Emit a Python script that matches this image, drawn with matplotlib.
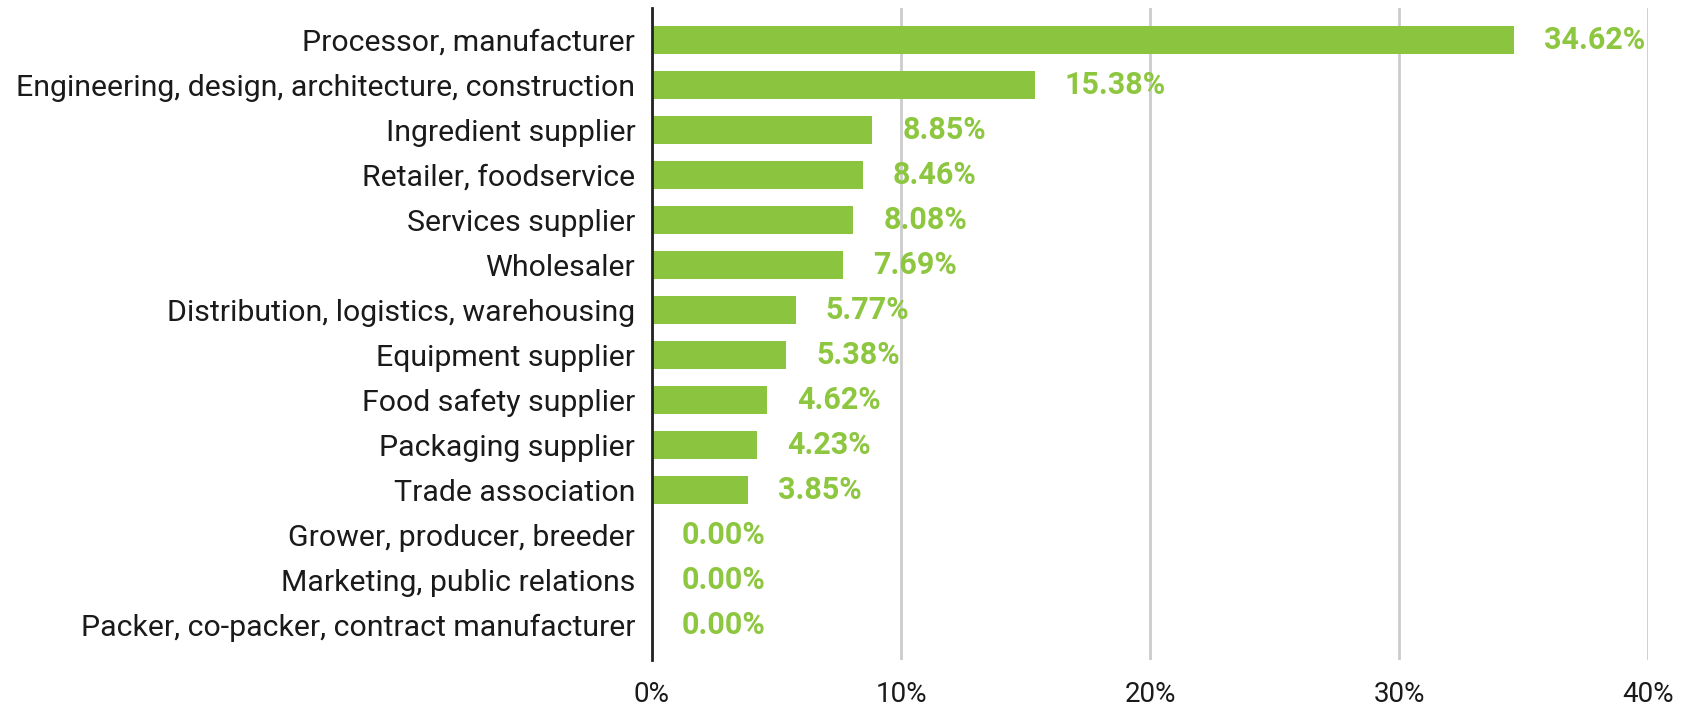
import matplotlib.pyplot as plt
from matplotlib.ticker import FuncFormatter

plt.rcParams['font.family'] = ['Roboto', 'DejaVu Sans']

# respondent categories, top to bottom
categories = [
    "Processor, manufacturer",
    "Engineering, design, architecture, construction",
    "Ingredient supplier",
    "Retailer, foodservice",
    "Services supplier",
    "Wholesaler",
    "Distribution, logistics, warehousing",
    "Equipment supplier",
    "Food safety supplier",
    "Packaging supplier",
    "Trade association",
    "Grower, producer, breeder",
    "Marketing, public relations",
    "Packer, co-packer, contract manufacturer",
]
shares = [34.62, 15.38, 8.85, 8.46, 8.08, 7.69, 5.77, 5.38, 4.62, 4.23, 3.85, 0.00, 0.00, 0.00]
x_ticks = [0, 10, 20, 30, 40]

bar_color = "#8bc540"
label_color = "#8dc63f"

fig = plt.figure(figsize=(17.01, 7.09), dpi=100)
ax = fig.add_axes([0.3833, 0.0691, 0.5856, 0.9196])

ypos = list(range(len(categories)))
ax.barh(ypos, shares, height=0.64, color=bar_color, zorder=3)

# value labels just right of each bar
for y, v in zip(ypos, shares):
    ax.annotate(f"{v:.2f}%", xy=(v, y), xytext=(30, 0), textcoords="offset pixels",
                va="center", ha="left", fontsize=22, fontweight="bold", color=label_color)

ax.set_xlim(0, 40)
ax.set_ylim(len(categories) - 0.22, -0.71)
ax.set_yticks(ypos)
ax.set_yticklabels(categories, fontsize=21.8, color="#1a1a1a")
ax.set_xticks(x_ticks)
ax.xaxis.set_major_formatter(FuncFormatter(lambda v, p: f"{v:.0f}%"))
ax.tick_params(axis="x", length=0, pad=15, labelsize=20, labelcolor="#1a1a1a")
ax.tick_params(axis="y", length=0, pad=12)

ax.grid(axis="x", color="#cccccc", linewidth=2, zorder=0)
ax.set_axisbelow(True)
for s in ["top", "right", "bottom"]:
    ax.spines[s].set_visible(False)
ax.spines["left"].set_linewidth(2)
ax.spines["left"].set_color("#222222")
ax.spines["left"].set_zorder(4)

fig.savefig("out.png", dpi=100, facecolor="white")
